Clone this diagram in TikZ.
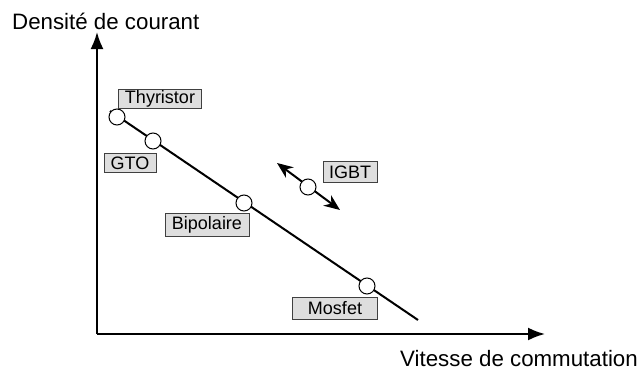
\documentclass[tikz,border=0pt]{standalone}
\usepackage{fontspec}
\setmainfont{Liberation Sans}
\usetikzlibrary{arrows.meta}
\tikzset{
  lbl/.style={draw=black!75, line width=0.8pt, fill=black!13, inner sep=0pt,
    font=\fontsize{18}{20}\selectfont, text=black},
  dev/.style={circle, draw=black, line width=1pt, fill=white, minimum size=16pt, inner sep=0pt},
  axis/.style={line width=2pt, -{Latex[length=17pt,width=13pt]}},
  trend/.style={line width=2pt},
  move/.style={line width=2pt, {Stealth[length=16pt,width=13pt]}-{Stealth[length=16pt,width=13pt]}},
  title/.style={font=\fontsize{22.3}{24}\selectfont, inner sep=0pt}
}
\begin{document}
\begin{tikzpicture}[x=1pt,y=-1pt]
\useasboundingbox (0,0) rectangle (643,372);
% axes
\coordinate (o) at (97,334);
\coordinate (ytip) at (97,32);
\coordinate (xtip) at (545,334);
\draw[axis] (o) -- (ytip);
\draw[axis] (o) -- (xtip);
\node[title, anchor=base west] (ylab) at (12,30) {Densité de courant};
\node[title, anchor=base east] (xlab) at (638,366) {Vitesse de commutation};
% trend line
\coordinate (ls) at (110,111);
\coordinate (le) at (418,320);
\draw[trend] (ls) -- (le);
% IGBT arrows
\coordinate (ia) at (277,163);
\coordinate (ib) at (340,210);
\draw[move] (ia) -- (ib);
% devices
\node[dev] (thy) at (117,117) {};
\node[dev] (gto) at (153,141) {};
\node[dev] (bip) at (244,203) {};
\node[dev] (mos) at (367,286) {};
\node[dev] (igbt) at (308,187) {};
% labels
\node[lbl, minimum width=83pt, minimum height=19pt] (thyl) at (160,99) {Thyristor};
\node[lbl, minimum width=52pt, minimum height=19pt] (gtol) at (130,163) {GTO};
\node[lbl, minimum width=54pt, minimum height=21pt] (igbtl) at (350,172) {IGBT};
\node[lbl, minimum width=84pt, minimum height=23pt] (bipl) at (207,225) {Bipolaire};
\node[lbl, minimum width=85pt, minimum height=22pt] (mosl) at (335,308) {Mosfet};
\end{tikzpicture}
\end{document}
